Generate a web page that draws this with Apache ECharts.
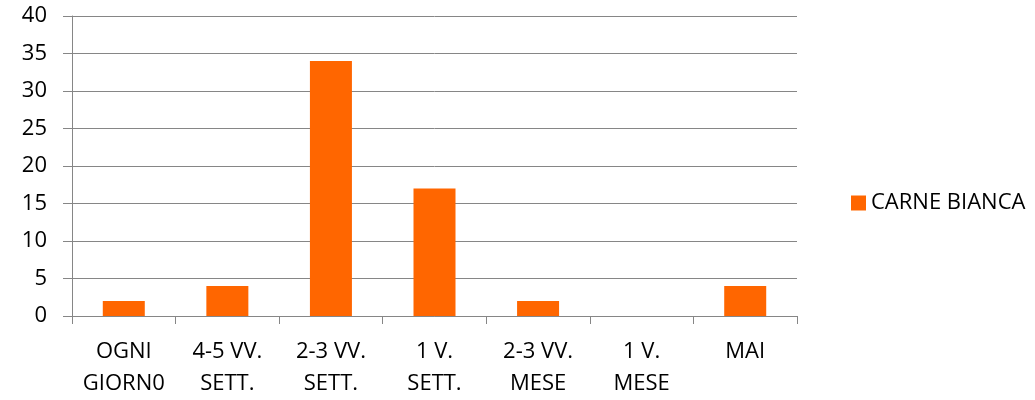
<!DOCTYPE html>
<html>
<head>
<meta charset="utf-8">
<script src="https://cdn.jsdelivr.net/npm/echarts@6/dist/echarts.min.js"></script>
<style>
  html, body { margin: 0; padding: 0; background: #fff; }
  #chart { width: 1035px; height: 400px; }
</style>
</head>
<body>
<div id="chart"></div>
<script>
const categories = ['OGNI\nGIORN0', '4-5 VV.\nSETT.', '2-3 VV.\nSETT.', '1 V.\nSETT.', '2-3 VV.\nMESE', '1 V.\nMESE', 'MAI']
const carneBianca = [2, 4, 34, 17, 2, 0, 4]
const seriesName = 'CARNE BIANCA'

const font = '"Open Sans", "Noto Sans", sans-serif'
const gridColor = '#868686'

const chart = echarts.init(document.getElementById('chart'), undefined, { renderer: 'canvas' })
chart.setOption({
  animation: false,
  textStyle: { fontFamily: font },
  grid: { left: 72, right: 238, top: 16, bottom: 83, containLabel: false },
  legend: {
    left: 846,
    top: 187,
    icon: 'rect',
    itemWidth: 15,
    itemHeight: 15,
    itemGap: 6,
    textStyle: { fontFamily: font, fontSize: 22, color: '#000', padding: [0, 0, 0, 0] },
    data: [seriesName],
  },
  xAxis: {
    type: 'category',
    data: categories,
    axisLine: { lineStyle: { color: gridColor, width: 1 } },
    axisTick: { show: true, length: 8, lineStyle: { color: gridColor } },
    axisLabel: {
      color: '#000',
      fontFamily: font,
      fontSize: 22,
      lineHeight: 32,
      margin: 20,
      interval: 0,
    },
  },
  yAxis: {
    type: 'value',
    min: 0,
    max: 40,
    interval: 5,
    axisLine: { show: true, lineStyle: { color: gridColor, width: 1 } },
    axisTick: { show: true, inside: false, length: 9, lineStyle: { color: gridColor } },
    splitLine: { lineStyle: { color: gridColor, width: 1 } },
    axisLabel: { color: '#000', fontFamily: font, fontSize: 22, margin: 25 },
  },
  series: [
    {
      name: seriesName,
      type: 'bar',
      barWidth: 42,
      itemStyle: { color: '#FF6600' },
      data: carneBianca,
    },
  ],
})
</script>
</body>
</html>
